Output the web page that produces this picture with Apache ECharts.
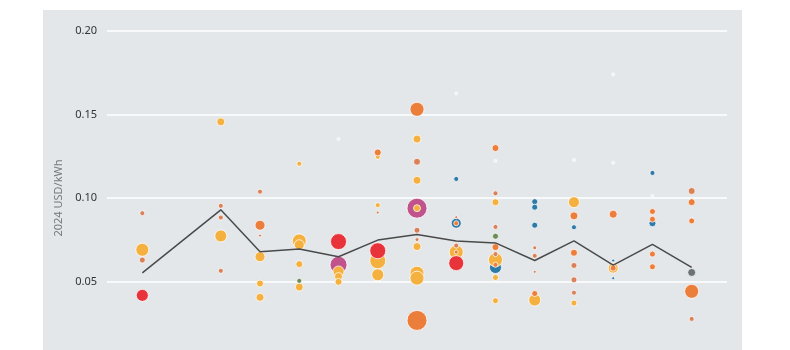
<!DOCTYPE html>
<html>
<head>
<meta charset="utf-8">
<script src="https://cdn.jsdelivr.net/npm/echarts@6/dist/echarts.min.js"></script>
<style>
html,body{margin:0;padding:0;background:#fff;}
#chart{width:790px;height:350px;}
</style>
</head>
<body>
<div id="chart"></div>
<script>
// Weighted average line: [year, USD/kWh]
const averageLine = [
  [2010,0.0552],[2012,0.0929],[2013,0.0678],[2014,0.0694],[2015,0.0648],[2016,0.0748],
  [2017,0.0782],[2018,0.0743],[2019,0.0731],[2020,0.0626],[2021,0.0743],[2022,0.0598],
  [2023,0.0722],[2024,0.0584]
];
// Projects: [year, USD/kWh, bubble size]
const magentaProjects = [[2015,0.0600,17],[2017,0.0939,20]];
const blueProjects = [
  [2018,0.1114,5],[2018,0.0849,10],[2019,0.0584,12],[2020,0.0978,6],[2020,0.0945,6],
  [2020,0.0837,6],[2021,0.0825,5],[2022,0.0626,3],[2022,0.0520,3],[2023,0.1150,5],[2023,0.0849,7]
];
const yellowProjects = [
  [2010,0.0690,13],
  [2012,0.1456,8],[2012,0.0773,12],
  [2013,0.0648,10],[2013,0.0488,7],[2013,0.0405,8],
  [2014,0.1205,5],[2014,0.0743,14],[2014,0.0720,10],[2014,0.0604,7],[2014,0.0467,8],
  [2015,0.0560,11],[2015,0.0530,8],[2015,0.0498,7],
  [2016,0.1247,5],[2016,0.0957,5],[2016,0.0624,16],[2016,0.0540,12],
  [2017,0.1353,8],[2017,0.1106,8],[2017,0.0939,7],[2017,0.0709,8],[2017,0.0550,14],[2017,0.0520,14],
  [2018,0.0676,14],
  [2019,0.0975,7],[2019,0.0630,14],[2019,0.0524,6],[2019,0.0385,6],
  [2020,0.0389,12],
  [2021,0.0975,11],[2021,0.0371,6],
  [2022,0.0580,10]
];
const orangeProjects = [
  [2013,0.0837,10],
  [2016,0.1273,7],
  [2017,0.1531,14],[2017,0.0267,20],
  [2018,0.0849,5],[2018,0.0676,4],
  [2019,0.1299,7],[2019,0.0706,7],[2019,0.0600,5],
  [2020,0.0428,6],
  [2021,0.0893,8],[2021,0.0672,7],
  [2022,0.0903,8],[2022,0.0580,6],
  [2023,0.0919,6],[2023,0.0873,6],[2023,0.0664,6],[2023,0.0588,6],
  [2024,0.0975,7],[2024,0.0863,6],[2024,0.0441,14]
];
const brownProjects = [
  [2010,0.0909,5],[2010,0.0628,6],
  [2012,0.0953,5],[2012,0.0883,5],[2012,0.0564,5],
  [2013,0.1038,5],[2013,0.0775,3],
  [2016,0.0913,3],
  [2017,0.1217,7],[2017,0.0807,6],[2017,0.0751,4],
  [2018,0.0885,3],[2018,0.0715,5],
  [2019,0.1028,5],[2019,0.0827,5],[2019,0.0664,5],
  [2020,0.0702,4],[2020,0.0654,5],[2020,0.0558,3],
  [2021,0.0596,6],[2021,0.0510,6],[2021,0.0433,5],
  [2024,0.1042,7],[2024,0.0276,5]
];
const redProjects = [[2010,0.0417,12],[2015,0.0739,16],[2016,0.0684,16],[2018,0.0610,15]];
const greenProjects = [[2014,0.0504,5],[2019,0.0771,6]];
const greyProjects = [[2024,0.0554,8]];
const paleProjects = [
  [2015,0.1353,3],[2018,0.1626,3],[2019,0.1222,3],[2021,0.1228,3],
  [2022,0.1740,3],[2022,0.1211,3],[2023,0.1012,3]
];
const yTicks = [0, 0.05, 0.10, 0.15, 0.20];

const groups = [
  ['magenta', magentaProjects, '#c0528c'],
  ['blue', blueProjects, '#2c7aa8'],
  ['yellow', yellowProjects, '#f5b13f'],
  ['orange', orangeProjects, '#ec7e3c'],
  ['brown', brownProjects, '#d9825a'],
  ['red', redProjects, '#e8333a'],
  ['green', greenProjects, '#6b8c55'],
  ['grey', greyProjects, '#6c7376'],
  ['pale', paleProjects, '#eef0f1']
];

const series = groups.map(([name, data, color]) => ({
  name, type: 'scatter', data,
  symbolSize: v => v[2],
  itemStyle: { color, opacity: 1, borderColor: 'rgba(255,255,255,0.75)', borderWidth: 1 },
  emphasis: { disabled: true },
  z: 3
}));
series.push({
  name: 'average', type: 'line', data: averageLine,
  showSymbol: false, symbol: 'none',
  lineStyle: { color: '#4a4a4a', width: 1.5 },
  z: 4
});

const chart = echarts.init(document.getElementById('chart'), null, { renderer: 'canvas' });
chart.setOption({
  animation: false,
  textStyle: { fontFamily: 'Noto Sans' },
  graphic: [{
    type: 'rect', z: -10, silent: true,
    shape: { x: 43, y: 10, width: 699, height: 345 },
    style: { fill: '#e3e7ea' }
  }],
  grid: { left: 107, width: 620, top: 31, height: 334, containLabel: false, outerBoundsMode: 'none' },
  xAxis: {
    type: 'value', min: 2009.1, max: 2024.9, show: false
  },
  yAxis: {
    type: 'value', min: yTicks[0], max: yTicks[yTicks.length - 1], interval: 0.05,
    name: '2024 USD/kWh', nameLocation: 'middle', nameGap: 42,
    nameTextStyle: { color: '#7a7a7a', fontSize: 11, fontFamily: 'Noto Sans' },
    axisLine: { show: false }, axisTick: { show: false },
    axisLabel: { color: '#333', fontSize: 11, margin: 10, fontFamily: 'Noto Sans',
      formatter: v => v === 0 ? '0' : v.toFixed(2) },
    splitLine: { lineStyle: { color: '#ffffff', width: 1.5 } }
  },
  series
});
</script>
</body>
</html>
